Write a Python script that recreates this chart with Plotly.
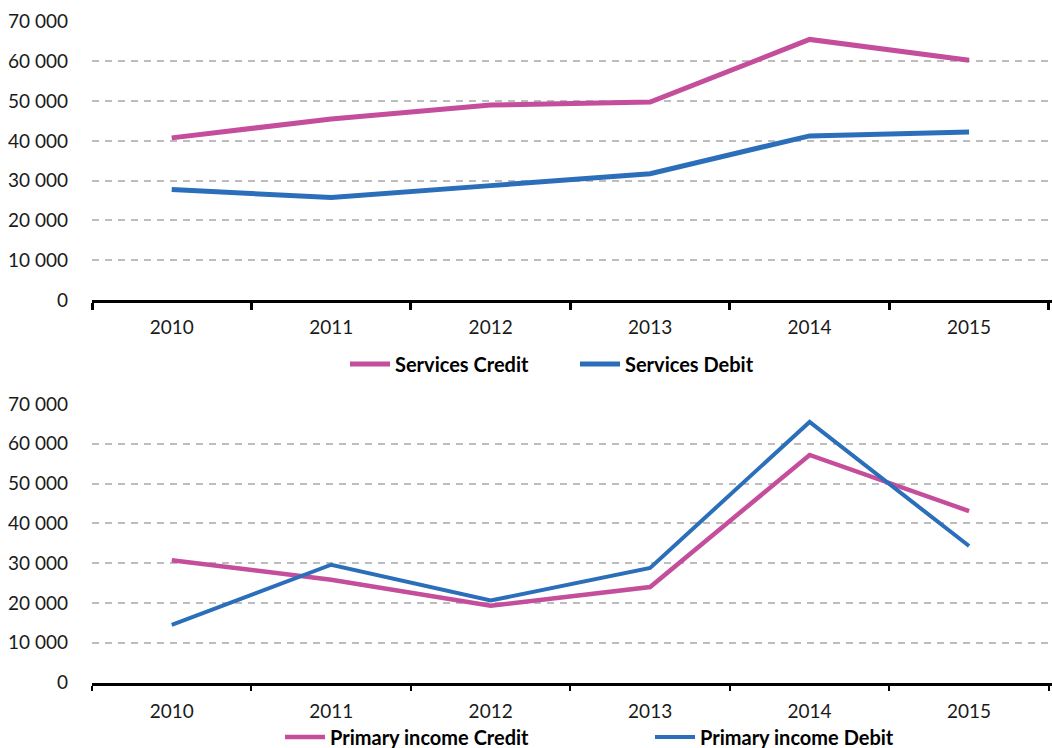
import plotly.graph_objects as go

# Years on the category axis
years = ["2010", "2011", "2012", "2013", "2014", "2015"]

# Services (top panel)
services_credit = [40750, 45500, 49000, 49750, 65500, 60250]
services_debit = [27750, 25750, 28750, 31750, 41250, 42250]

# Primary income (bottom panel)
primary_credit = [30750, 25800, 19300, 24000, 57200, 43100]
primary_debit = [14500, 29600, 20600, 28800, 65500, 34300]

y_ticks = [0, 10000, 20000, 30000, 40000, 50000, 60000, 70000]

PINK = "#C44D9C"
BLUE = "#2B6FBA"
GRID = "#BDBDBD"
FONT = "Lato"

W, H = 1052, 748

fig = go.Figure()

fig.add_trace(go.Scatter(x=years, y=services_credit, name="Services Credit",
                         mode="lines", line=dict(color=PINK, width=5),
                         xaxis="x", yaxis="y", legend="legend"))
fig.add_trace(go.Scatter(x=years, y=services_debit, name="Services Debit",
                         mode="lines", line=dict(color=BLUE, width=5),
                         xaxis="x", yaxis="y", legend="legend"))
fig.add_trace(go.Scatter(x=years, y=primary_credit, name="Primary income Credit",
                         mode="lines", line=dict(color=PINK, width=4.5),
                         xaxis="x2", yaxis="y2", legend="legend2"))
fig.add_trace(go.Scatter(x=years, y=primary_debit, name="Primary income Debit",
                         mode="lines", line=dict(color=BLUE, width=4),
                         xaxis="x2", yaxis="y2", legend="legend2"))

# pixel rows of each panel (70 000 gridline, 0 line)
top_px = (21.5, 300.0)
bot_px = (404.0, 682.5)


def dom(px):
    return [1 - px[1] / H, 1 - px[0] / H]


xaxis_common = dict(
    type="category",
    categoryorder="array",
    categoryarray=years,
    range=[-0.5, 5.52],
    showline=True,
    linecolor="black",
    linewidth=3,
    ticks="outside",
    tickson="boundaries",
    tickcolor="black",
    showgrid=False,
    zeroline=False,
    tickfont=dict(family=FONT, size=19, color="#1a1a1a"),
    fixedrange=True,
)

yaxis_common = dict(
    range=[0, 70000],
    tickvals=y_ticks,
    tickformat=",d",
    showgrid=True,
    gridcolor=GRID,
    gridwidth=2,
    griddash="7px,6px",
    zeroline=False,
    showline=False,
    ticks="",
    ticklabelstandoff=23,
    tickfont=dict(family=FONT, size=19, color="#1a1a1a"),
    fixedrange=True,
)

legend_common = dict(
    orientation="h",
    xanchor="left",
    yanchor="middle",
    yref="paper",
    font=dict(family=FONT, size=20, color="black", weight="bold"),
    itemwidth=40,
    entrywidthmode="pixels",
    bgcolor="rgba(0,0,0,0)",
)

fig.update_layout(
    width=W,
    height=H,
    margin=dict(l=92, r=0, t=0, b=0, autoexpand=False),
    paper_bgcolor="white",
    plot_bgcolor="white",
    separators=". ",
    font=dict(family=FONT, color="#1a1a1a"),
    xaxis=dict(**xaxis_common, anchor="y", domain=[0, 1], ticklen=7, tickwidth=3,
               ticklabelstandoff=8),
    yaxis=dict(**yaxis_common, anchor="x", domain=dom(top_px)),
    xaxis2=dict(**xaxis_common, anchor="y2", domain=[0, 1], ticklen=5, tickwidth=2,
                ticklabelstandoff=10),
    yaxis2=dict(**yaxis_common, anchor="x2", domain=dom(bot_px)),
    legend=dict(**legend_common,
                x=(345 - 92) / (W - 92), y=1 - 364 / H, entrywidth=175),
    legend2=dict(**legend_common,
                 x=(280 - 92) / (W - 92), y=1 - 737 / H, entrywidth=315),
)

fig.write_html("out.html")
